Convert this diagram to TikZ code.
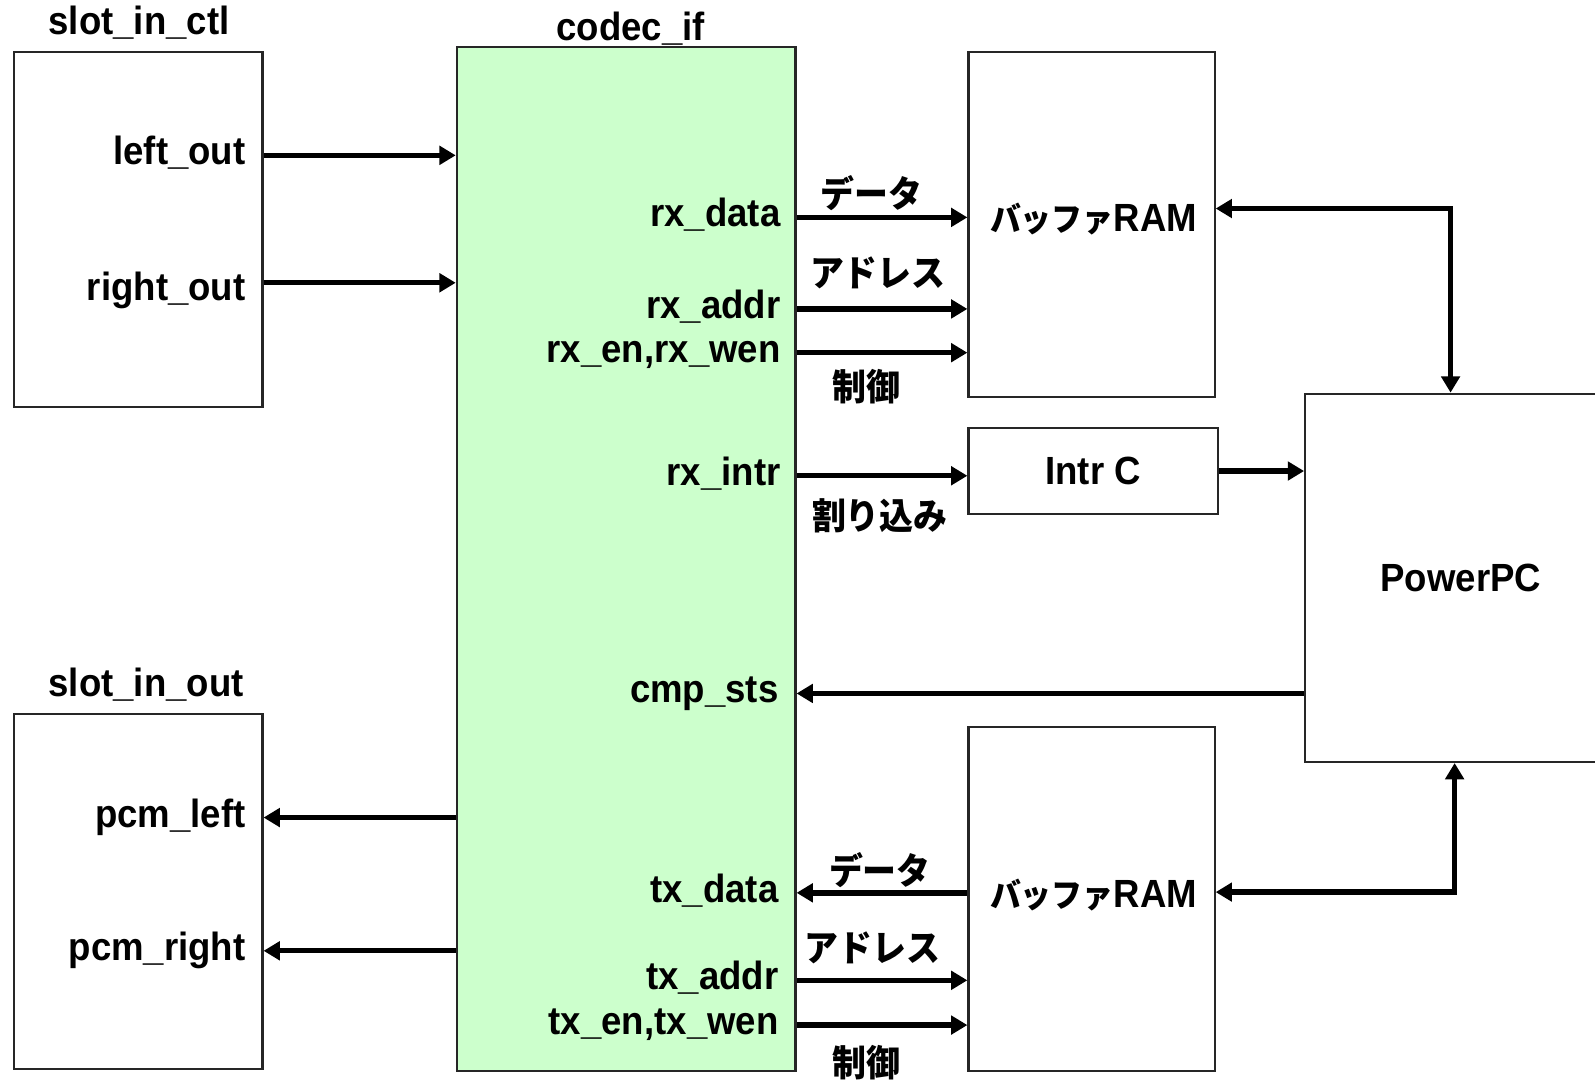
\documentclass[tikz,border=0pt]{standalone}
\usepackage{fontspec}
\setmainfont{Liberation Sans}[FakeStretch=0.93]
\newfontfamily\jpfont{Noto Sans CJK JP}[FakeStretch=0.93]
\usetikzlibrary{arrows.meta,positioning,calc}

\definecolor{codecgreen}{HTML}{CCFFCC}
\newcommand\kana[1]{{\jpfont\fontsize{9.3}{11}\selectfont\bfseries #1}}

\tikzset{
  blk/.style={draw=black!85,line width=0.6pt,anchor=north west,inner sep=0pt,
    font=\fontsize{11}{13}\selectfont\bfseries},
  sig/.style={line width=1.5pt,->},
  bsig/.style={line width=1.5pt,<->},
  port/.style={anchor=base east,inner sep=0pt,font=\fontsize{11}{13}\selectfont\bfseries},
  ttl/.style={inner sep=0pt,font=\fontsize{11}{13}\selectfont\bfseries},
  jp/.style={inner sep=0pt,font=\jpfont\fontsize{10.2}{12}\selectfont\bfseries}
}

\begin{document}
\begin{tikzpicture}[x=1cm,y=-1cm,>={Triangle[length=1.6mm,width=1.8mm]}]
      \clip (0,0) rectangle (15.68,10.63);
      % blocks
      \node[blk,minimum width=2.44cm,minimum height=3.49cm] (ctl) at (0.13,0.50) {};
      \node[blk,minimum width=2.44cm,minimum height=3.49cm] (io) at (0.13,7.01) {};
      \node[blk,fill=codecgreen,minimum width=3.33cm,minimum height=10.07cm] (codec) at (4.48,0.45) {};
      \node[blk,minimum width=2.42cm,minimum height=3.39cm] (ramrx) at (9.51,0.50) {};
      \node[blk,minimum width=2.45cm,minimum height=0.84cm] (intr) at (9.51,4.20) {Intr C};
      \node[blk,minimum width=2.42cm,minimum height=3.38cm] (ramtx) at (9.51,7.14) {};
      \node[blk,minimum width=3.06cm,minimum height=3.62cm] (ppc) at (12.82,3.86) {PowerPC};
      \node[ttl] (ramrxname) at (10.75,2.15) {\kana{バッファ}RAM};
      \node[ttl] (ramtxname) at (10.75,8.80) {\kana{バッファ}RAM};
      % titles
      \node[ttl,anchor=west] (ctlname) at (0.47,0.22) {slot\_in\_ctl};
      \node[ttl,anchor=west] (ioname) at (0.47,6.73) {slot\_in\_out};
      \node[ttl] (codecname) at (6.20,0.28) {codec\_if};
      % ports (placed on their baselines)
      \node[port] (leftout) at (2.42,1.62) {left\_out};
      \node[port] (rightout) at (2.42,2.95) {right\_out};
      \node[port] (pcmleft) at (2.42,8.13) {pcm\_left};
      \node[port] (pcmright) at (2.42,9.44) {pcm\_right};
      \node[port] (rxdata) at (7.68,2.23) {rx\_data};
      \node[port] (rxaddr) at (7.68,3.13) {rx\_addr};
      \node[port] (rxen) at (7.68,3.56) {rx\_en,rx\_wen};
      \node[port] (rxintr) at (7.68,4.77) {rx\_intr};
      \node[port] (cmpsts) at (7.66,6.91) {cmp\_sts};
      \node[port] (txdata) at (7.66,8.87) {tx\_data};
      \node[port] (txaddr) at (7.66,9.73) {tx\_addr};
      \node[port] (txen) at (7.66,10.17) {tx\_en,tx\_wen};
      % signal names
      \node[jp] (rxdatajp) at (8.57,1.90) {データ};
      \node[jp] (rxaddrjp) at (8.63,2.68) {アドレス};
      \node[jp] (rxctljp) at (8.52,3.80) {制御};
      \node[jp] (intrjp) at (8.65,5.07) {割り込み};
      \node[jp] (txdatajp) at (8.65,8.55) {データ};
      \node[jp] (txaddrjp) at (8.58,9.32) {アドレス};
      \node[jp] (txctljp) at (8.52,10.45) {制御};
      % connections
      \draw[sig] (ctl.east |- leftout.mid east) -- (codec.west |- leftout.mid east);
      \draw[sig] (ctl.east |- 0,2.78) -- (codec.west |- 0,2.78);
      \draw[sig] (codec.west |- pcmleft.mid east) -- (io.east |- pcmleft.mid east);
      \draw[sig] (codec.west |- pcmright.mid east) -- (io.east |- pcmright.mid east);
      \draw[sig] (codec.east |- rxdata.mid east) -- (ramrx.west |- rxdata.mid east);
      \draw[sig] (codec.east |- rxaddr.mid east) -- (ramrx.west |- rxaddr.mid east);
      \draw[sig] (codec.east |- rxen.mid east) -- (ramrx.west |- rxen.mid east);
      \draw[sig] (codec.east |- rxintr.mid east) -- (intr.west |- rxintr.mid east);
      \draw[sig] (intr.east) -- (intr.east -| ppc.west);
      \draw[sig] (ppc.west |- cmpsts.mid east) -- (codec.east |- cmpsts.mid east);
      \draw[sig] (ramtx.west |- txdata.mid east) -- (codec.east |- txdata.mid east);
      \draw[sig] (codec.east |- txaddr.mid east) -- (ramtx.west |- txaddr.mid east);
      \draw[sig] (codec.east |- txen.mid east) -- (ramtx.west |- txen.mid east);
      \coordinate (rxbend) at (14.26,2.05);
      \coordinate (txbend) at (14.30,8.77);
      \draw[bsig] (ramrx.east |- rxbend) -- (rxbend) -- (rxbend |- ppc.north);
      \draw[bsig] (ramtx.east |- txbend) -- (txbend) -- (txbend |- ppc.south);
\end{tikzpicture}
\end{document}
